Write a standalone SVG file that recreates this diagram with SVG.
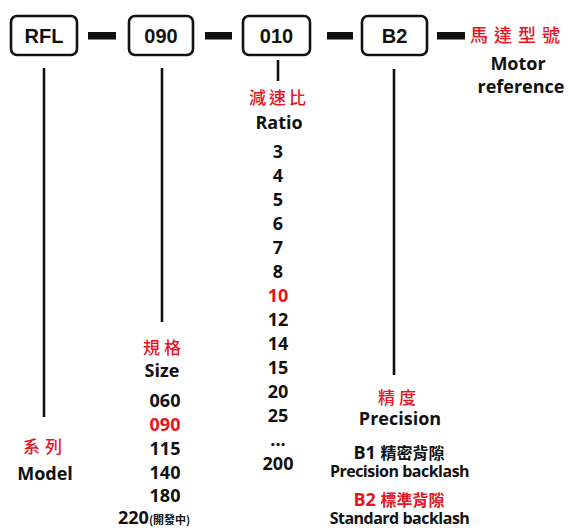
<svg xmlns="http://www.w3.org/2000/svg" width="570" height="528" viewBox="0 0 570 528">
<style>
.box{fill:#fff;stroke:#111;stroke-width:2.6}
.bt{font-family:"Liberation Sans",Arial,sans-serif;font-weight:bold;font-size:20px;fill:#111;text-anchor:middle}
.ln{stroke:#111;stroke-width:2.6;fill:none}
.dash{fill:#111}
.t{font-family:"Open Sans","Liberation Sans",sans-serif;font-weight:bold;font-size:18px;fill:#111;text-anchor:middle}
.r{fill:#e8141e}
.cjk{font-family:"Noto Sans CJK TC","Noto Sans CJK SC",sans-serif;font-weight:500;font-size:17px;fill:#e8141e;text-anchor:middle}
.cb{font-family:"Noto Sans CJK TC","Noto Sans CJK SC",sans-serif;font-size:16px;font-weight:bold}
.sm{font-family:"Noto Sans CJK TC",sans-serif;font-size:11px;font-weight:bold}
</style>
<rect width="570" height="528" fill="#fff"/>
<g id="connectors">
<rect class="dash" x="88" y="32" width="28" height="7.5"/>
<rect class="dash" x="205" y="32" width="27" height="7.5"/>
<rect class="dash" x="327" y="32" width="26" height="7.5"/>
<rect class="dash" x="437" y="32" width="28" height="7.5"/>
<line class="ln" x1="44" y1="68" x2="44" y2="417"/>
<line class="ln" x1="162" y1="68" x2="162" y2="322"/>
<line class="ln" x1="278" y1="60" x2="278" y2="81"/>
<line class="ln" x1="394" y1="69" x2="394" y2="375"/>
</g>
<g id="node-rfl">
<rect class="box" x="11" y="16" width="66" height="39" rx="6"/>
<text class="bt" x="44" y="43">RFL</text>
</g>
<g id="node-090">
<rect class="box" x="129" y="16" width="64" height="39" rx="6"/>
<text class="bt" x="161" y="43">090</text>
</g>
<g id="node-010">
<rect class="box" x="243" y="16" width="67" height="39" rx="6"/>
<text class="bt" x="276.5" y="43">010</text>
</g>
<g id="node-b2">
<rect class="box" x="362" y="16" width="65" height="39" rx="6"/>
<text class="bt" x="394.5" y="43">B2</text>
</g>
<g id="motor">
<text class="cjk" x="470" y="42" style="text-anchor:start;letter-spacing:6px;font-size:18px">馬達型號</text>
<text class="t" x="518" y="70">Motor</text>
<text class="t" x="521" y="93">reference</text>
</g>
<g id="series">
<text class="cjk" x="45" y="453" style="letter-spacing:5px">系列</text>
<text class="t" x="45" y="480">Model</text>
</g>
<g id="size">
<text class="cjk" x="164" y="354" style="letter-spacing:4px">規格</text>
<text class="t" x="162" y="377">Size</text>
<text class="t" x="165" y="407">060</text>
<text class="t r" x="165" y="431">090</text>
<text class="t" x="165" y="455">115</text>
<text class="t" x="165" y="479">140</text>
<text class="t" x="165" y="502">180</text>
<text class="t" x="118" y="524" style="text-anchor:start">220<tspan class="sm">(開發中)</tspan></text>
</g>
<g id="ratio">
<text class="cjk" x="279" y="104" style="letter-spacing:3px">減速比</text>
<text class="t" x="279" y="129">Ratio</text>
<text class="t" x="278" y="158">3</text>
<text class="t" x="278" y="182">4</text>
<text class="t" x="278" y="206">5</text>
<text class="t" x="278" y="230">6</text>
<text class="t" x="278" y="254">7</text>
<text class="t" x="278" y="278">8</text>
<text class="t r" x="278" y="302">10</text>
<text class="t" x="278" y="326">12</text>
<text class="t" x="278" y="350">14</text>
<text class="t" x="278" y="374">15</text>
<text class="t" x="278" y="398">20</text>
<text class="t" x="278" y="422">25</text>
<text class="t" x="278" y="446">...</text>
<text class="t" x="278" y="470">200</text>
</g>
<g id="precision">
<text class="cjk" x="399" y="404" style="letter-spacing:4px">精度</text>
<text class="t" x="400" y="425">Precision</text>
<text class="t" x="399" y="459">B1 <tspan class="cb">精密背隙</tspan></text>
<text class="t" x="399.5" y="477" style="font-size:16px;letter-spacing:-0.5px">Precision backlash</text>
<text class="t r" x="399" y="506">B2 <tspan class="cb">標準背隙</tspan></text>
<text class="t" x="399.5" y="524" style="font-size:16px;letter-spacing:-0.5px">Standard backlash</text>
</g>
</svg>
